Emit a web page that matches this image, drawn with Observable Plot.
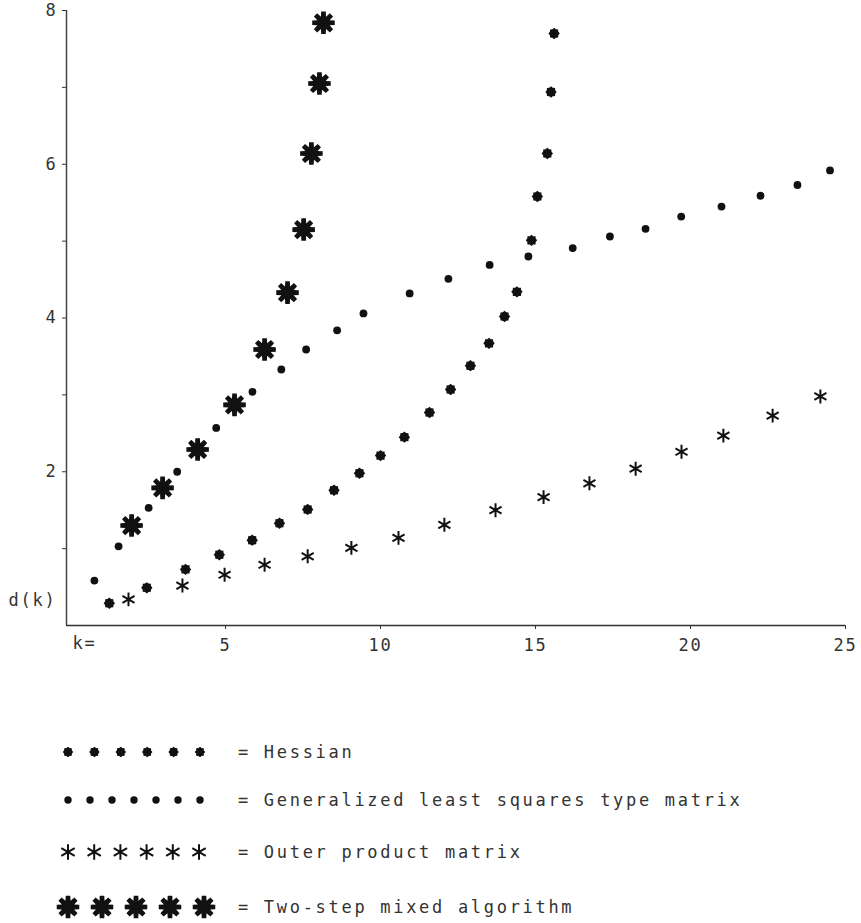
<!DOCTYPE html>
<html>
<head>
<meta charset="utf-8">
<script src="https://cdn.jsdelivr.net/npm/d3@7"></script>
<script src="https://cdn.jsdelivr.net/npm/@observablehq/plot@0.6"></script>
<style>
  html, body { margin: 0; padding: 0; background: #fff; }
  #wrap { width: 861px; }
  svg text { letter-spacing: 1.8px; }
  svg.legend text { letter-spacing: 2.7px; }
</style>
</head>
<body>
<div id="wrap"></div>
<script>
// ---- data ----
const hessianK = [1.25, 2.46, 3.71, 4.8, 5.86, 6.74, 7.65, 8.5, 9.32, 10.0, 10.77, 11.58, 12.26, 12.9, 13.5, 14.0, 14.4, 14.87, 15.06, 15.38, 15.5, 15.6];
const hessianD = [0.29, 0.49, 0.73, 0.92, 1.11, 1.33, 1.51, 1.76, 1.98, 2.21, 2.45, 2.77, 3.07, 3.38, 3.67, 4.02, 4.34, 5.01, 5.58, 6.14, 6.94, 7.70];

const glsK = [0.77, 1.55, 2.52, 3.44, 4.7, 5.87, 6.8, 7.6, 8.6, 9.45, 10.94, 12.19, 13.52, 14.77, 16.2, 17.4, 18.55, 19.7, 21.0, 22.26, 23.45, 24.5];
const glsD = [0.585, 1.03, 1.53, 2.0, 2.57, 3.04, 3.33, 3.59, 3.84, 4.06, 4.32, 4.51, 4.69, 4.80, 4.91, 5.06, 5.16, 5.32, 5.45, 5.59, 5.73, 5.92];

const outerK = [1.87, 3.61, 4.97, 6.26, 7.65, 9.06, 10.58, 12.06, 13.71, 15.26, 16.74, 18.23, 19.71, 21.06, 22.65, 24.19];
const outerD = [0.34, 0.52, 0.66, 0.79, 0.90, 1.01, 1.14, 1.31, 1.50, 1.67, 1.85, 2.04, 2.26, 2.47, 2.73, 2.98];

const twoK = [1.97, 2.97, 4.10, 5.29, 6.26, 7.0, 7.52, 7.77, 8.03, 8.16];
const twoD = [1.30, 1.79, 2.29, 2.87, 3.59, 4.33, 5.15, 6.14, 7.05, 7.84];

const xTicks = [5, 10, 15, 20, 25];
const yTicks = [1, 2, 3, 4, 5, 6, 7, 8];
const yTickLabels = ["", "2", "", "4", "", "6", "", "8"];

const seriesNames = ["Hessian", "Generalized least squares type matrix", "Outer product matrix", "Two-step mixed algorithm"];
const legendCounts = [6, 7, 6, 5];

// ---- custom symbols ----
const hessianSymbol = {
  draw(ctx, size) {
    const r = Math.sqrt(size / Math.PI);
    for (let i = 0; i < 16; i++) {
      const a = i * Math.PI / 8 - Math.PI / 2;
      const rr = i % 2 ? r * 0.8 : r;
      const x = rr * Math.cos(a), y = rr * Math.sin(a);
      i ? ctx.lineTo(x, y) : ctx.moveTo(x, y);
    }
    ctx.closePath();
  }
};
const twoStepSymbol = {
  draw(ctx, size) {
    const R = Math.sqrt(size / Math.PI);
    const h = 0.2, inner = 0.58 * R;
    let first = true;
    for (let j = 0; j < 8; j++) {
      const t = j * Math.PI / 4 - Math.PI / 2;
      const pts = [[t - h, R], [t + h, R], [t + Math.PI / 8, inner]];
      for (const [a, rr] of pts) {
        const x = rr * Math.cos(a), y = rr * Math.sin(a);
        if (first) { ctx.moveTo(x, y); first = false; } else ctx.lineTo(x, y);
      }
    }
    ctx.closePath();
  }
};

const ink = "#111";
const font = "DejaVu Sans Mono";

const toRows = (ks, ds) => ks.map((k, i) => ({k, d: ds[i]}));

const xDomain = [-0.13, 25];

const chart = Plot.plot({
  width: 861,
  height: 680,
  marginLeft: 66,
  marginRight: 16,
  marginTop: 10,
  marginBottom: 55,
  x: {domain: xDomain},
  y: {domain: [0, 8]},
  style: {fontFamily: font, fontSize: "17px", color: "#333", background: "#fff", overflow: "visible"},
  marks: [
    Plot.ruleX([xDomain[0]], {stroke: "#444", strokeWidth: 1.5}),
    Plot.ruleY([0], {stroke: "#333", strokeWidth: 1.6}),
    Plot.axisY({ticks: yTicks, tickFormat: (d) => yTickLabels[yTicks.indexOf(d)], tickSize: 4, tickPadding: 5, label: null, stroke: "#333"}),
    Plot.axisX({ticks: xTicks, tickSize: 4, tickPadding: 9, label: null, stroke: "#333"}),
    Plot.text(["d(k)"], {frameAnchor: "bottom-left", textAnchor: "start", dx: -58, dy: -20, fill: "#333"}),
    Plot.text(["k="], {frameAnchor: "bottom-left", textAnchor: "start", dx: 6, dy: 23, fill: "#333"}),
    Plot.dot(toRows(glsK, glsD), {x: "k", y: "d", r: 3.9, fill: ink, stroke: "none"}),
    Plot.dot(toRows(hessianK, hessianD), {x: "k", y: "d", r: 5.7, symbol: hessianSymbol, fill: ink, stroke: "none"}),
    Plot.dot(toRows(outerK, outerD), {x: "k", y: "d", r: 6.6, symbol: "asterisk", fill: "none", stroke: ink, strokeWidth: 2}),
    Plot.dot(toRows(twoK, twoD), {x: "k", y: "d", r: 11.5, symbol: twoStepSymbol, fill: ink, stroke: "none"})
  ]
});
document.getElementById("wrap").appendChild(chart);

// ---- legend (below the chart) ----
const legendSpec = [
  {sym: hessianSymbol, r: 5.3, fill: ink, stroke: "none", sw: 0, gap: 26.4},
  {sym: d3.symbolCircle, r: 3.7, fill: ink, stroke: "none", sw: 0, gap: 22},
  {sym: d3.symbolAsterisk, r: 7.3, fill: "none", stroke: ink, sw: 2, gap: 26.2},
  {sym: twoStepSymbol, r: 11.5, fill: ink, stroke: "none", sw: 0, gap: 34}
];
const legend = d3.create("svg").attr("class", "legend").attr("width", 861).attr("height", 243)
  .style("display", "block").style("font-family", font).style("font-size", "17px");
const rowY = [72, 120, 172, 227];
seriesNames.forEach((name, i) => {
  const s = legendSpec[i];
  const g = legend.append("g").attr("transform", `translate(0,${rowY[i]})`);
  for (let j = 0; j < legendCounts[i]; j++) {
    g.append("path")
      .attr("transform", `translate(${68 + j * s.gap},0)`)
      .attr("d", d3.symbol(s.sym, Math.PI * s.r * s.r)())
      .attr("fill", s.fill).attr("stroke", s.stroke).attr("stroke-width", s.sw);
  }
  g.append("text").attr("x", 238).attr("dy", "0.35em").attr("fill", "#333").text("= " + name);
});
document.getElementById("wrap").appendChild(legend.node());
</script>
</body>
</html>
